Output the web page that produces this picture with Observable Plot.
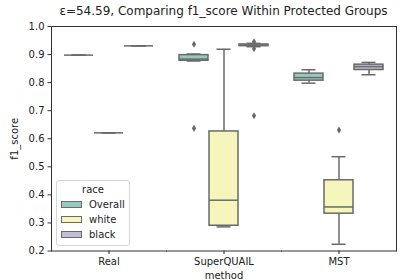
<!DOCTYPE html>
<html>
<head>
<meta charset="utf-8">
<script src="https://cdn.jsdelivr.net/npm/d3@7"></script>
<script src="https://cdn.jsdelivr.net/npm/@observablehq/plot@0.6"></script>
<style>
  body { margin: 0; background: #fff; font-family: "DejaVu Sans", sans-serif; }
  #wrap { position: relative; width: 404px; height: 280px; overflow: hidden; }
  #title { position: absolute; left: 0; top: 4px; width: 447px; text-align: center; font-size: 12px; color: #222; white-space: nowrap; }
  #chart { position: absolute; left: 0; top: 20px; }
  #legend { position: absolute; left: 56px; top: 180px; width: 72px; height: 64px; border: 1px solid #d6d6d6; border-radius: 3px; background: rgba(255,255,255,0.8); font-size: 10px; color: #222; }
  #legend .t { text-align: center; margin-top: 3px; height: 13px; }
  #legend .row { display: flex; align-items: center; height: 15px; }
  #legend .sw { width: 21px; height: 7px; margin-left: 4px; margin-right: 7px; border: 1px solid #6a6a6a; box-sizing: border-box; }
</style>
</head>
<body>
<div id="wrap">
  <div id="title"></div>
  <div id="chart"></div>
  <div id="legend"></div>
</div>
<script>
const titleText = "ε=54.59, Comparing f1_score Within Protected Groups";
const methods = ["Real", "SuperQUAIL", "MST"];
const races = ["Overall", "white", "black"];
const raceColors = ["#96cac1", "#f5f5bc", "#c1bed6"];
const yTicks = [0.2, 0.3, 0.4, 0.5, 0.6, 0.7, 0.8, 0.9, 1.0];

// one entry per box: method x race
const boxMethod = ["Real", "Real", "Real", "SuperQUAIL", "SuperQUAIL", "SuperQUAIL", "MST", "MST", "MST"];
const boxRace = ["Overall", "white", "black", "Overall", "white", "black", "Overall", "white", "black"];
const whiskerLow = [0.898, 0.621, 0.931, 0.877, 0.286, 0.928, 0.798, 0.224, 0.828];
const q1 =         [0.898, 0.621, 0.931, 0.878, 0.290, 0.930, 0.807, 0.333, 0.845];
const median =     [0.898, 0.621, 0.931, 0.884, 0.381, 0.933, 0.818, 0.357, 0.857];
const q3 =         [0.898, 0.621, 0.931, 0.898, 0.626, 0.936, 0.832, 0.452, 0.864];
const whiskerHigh = [0.898, 0.621, 0.931, 0.902, 0.919, 0.940, 0.846, 0.536, 0.872];

// outliers (fliers)
const outlierMethod = ["SuperQUAIL", "SuperQUAIL", "SuperQUAIL", "SuperQUAIL", "SuperQUAIL", "MST"];
const outlierRace = ["Overall", "Overall", "black", "black", "black", "white"];
const outlierValue = [0.937, 0.637, 0.946, 0.921, 0.682, 0.631];

const gray = "#6a6a6a";
const ink = "#222";
const boxes = d3.range(boxMethod.length);
const fliers = d3.range(outlierValue.length);

const thinDiamond = {
  draw(ctx, size) {
    const s = Math.sqrt(size);
    ctx.moveTo(0, -s * 0.62);
    ctx.lineTo(s * 0.38, 0);
    ctx.lineTo(0, s * 0.62);
    ctx.lineTo(-s * 0.38, 0);
    ctx.closePath();
  }
};

const chart = Plot.plot({
  width: 404,
  height: 260,
  marginLeft: 51,
  marginRight: 8,
  marginTop: 6,
  marginBottom: 29.5,
  style: { fontFamily: "DejaVu Sans, sans-serif", fontSize: "10px", color: ink, background: "transparent" },
  fx: { domain: methods, padding: 0 },
  x: { domain: races, paddingInner: 0.02, paddingOuter: 0.375, axis: null },
  y: { domain: [0.2, 1.0] },
  color: { domain: races, range: raceColors },
  marks: [
    Plot.frame({ anchor: "top", stroke: "#333", strokeWidth: 1 }),
    Plot.frame({ anchor: "bottom", stroke: "#333", strokeWidth: 1 }),
    Plot.frame({ anchor: "left", facetAnchor: "left", stroke: "#333", strokeWidth: 1 }),
    Plot.frame({ anchor: "right", facetAnchor: "right", stroke: "#333", strokeWidth: 1 }),
    Plot.axisY({ ticks: yTicks, tickFormat: d3.format(".1f"), tickSize: 3.5, tickPadding: 3.5, stroke: "#333", label: "f1_score", labelAnchor: "center", labelOffset: 41, labelArrow: "none", fontSize: 10 }),
    Plot.axisFx({ anchor: "bottom", tickSize: 3.5, tickPadding: 3, label: "method", labelAnchor: "center", labelOffset: 27.5, labelArrow: "none", fontSize: 10 }),
    Plot.ruleX(boxes, { fx: i => boxMethod[i], x: i => boxRace[i], y1: i => whiskerLow[i], y2: i => whiskerHigh[i], stroke: gray, strokeWidth: 1.5 }),
    Plot.tickY(boxes, { fx: i => boxMethod[i], x: i => boxRace[i], y: i => whiskerLow[i], stroke: gray, strokeWidth: 1.5, inset: 7.5 }),
    Plot.tickY(boxes, { fx: i => boxMethod[i], x: i => boxRace[i], y: i => whiskerHigh[i], stroke: gray, strokeWidth: 1.5, inset: 7.5 }),
    Plot.barY(boxes, { fx: i => boxMethod[i], x: i => boxRace[i], y1: i => q1[i], y2: i => q3[i], fill: i => boxRace[i], stroke: gray, strokeWidth: 1.5 }),
    Plot.tickY(boxes, { fx: i => boxMethod[i], x: i => boxRace[i], y: i => median[i], stroke: gray, strokeWidth: 1.5 }),
    Plot.dot(fliers, { fx: i => outlierMethod[i], x: i => outlierRace[i], y: i => outlierValue[i], symbol: thinDiamond, r: 3.2, fill: gray, stroke: "none" })
  ]
});
document.getElementById("chart").appendChild(chart);
document.getElementById("title").textContent = titleText;

const legend = document.getElementById("legend");
const t = document.createElement("div");
t.className = "t";
t.textContent = "race";
legend.appendChild(t);
races.forEach((r, k) => {
  const row = document.createElement("div");
  row.className = "row";
  const sw = document.createElement("span");
  sw.className = "sw";
  sw.style.background = raceColors[k];
  const lab = document.createElement("span");
  lab.textContent = r;
  row.appendChild(sw);
  row.appendChild(lab);
  legend.appendChild(row);
});
</script>
</body>
</html>
